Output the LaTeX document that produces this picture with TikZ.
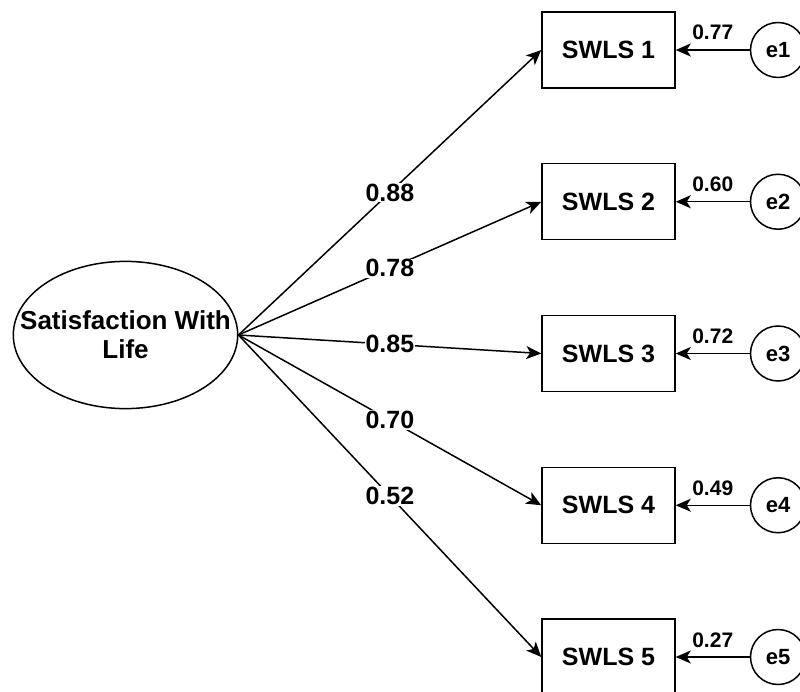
\documentclass[tikz,border=0pt]{standalone}
\usepackage{fontspec}
\setmainfont{Liberation Sans}
\usetikzlibrary{shapes.geometric,arrows.meta}

\tikzstyle{fleche}=[-{Stealth[length=15pt,width=13pt,inset=4pt]},line width=1.5pt]
\tikzstyle{latent}=[draw,ellipse,line width=1.5pt,inner xsep=-26pt,inner ysep=28pt,align=center,font=\bfseries\fontsize{26}{29}\selectfont]
\tikzstyle{boite}=[draw,rectangle,line width=1.5pt,minimum width=133pt,minimum height=76pt,font=\bfseries\fontsize{25}{28}\selectfont]
\tikzstyle{erreur}=[draw,circle,line width=1.5pt,minimum size=55pt,inner sep=0pt,font=\bfseries\fontsize{22}{24}\selectfont]
\tikzstyle{poids}=[fill=white,inner sep=1pt,font=\bfseries\fontsize{25}{28}\selectfont]
\tikzstyle{resid}=[above=9pt,inner sep=0pt,font=\bfseries\fontsize{21}{24}\selectfont]

\begin{document}
\begin{tikzpicture}[x=1pt,y=1pt]
\useasboundingbox (0,0) rectangle (800,-692);
\node [latent] (sat) at (125.5,-335) {Satisfaction With\\Life};
\foreach \i/\y/\l/\e/\w in {1/50/0.88/0.77/2.5,2/201.75/0.78/0.60/1.5,3/353.5/0.85/0.72/1.5,4/505.25/0.70/0.49/1.5,5/657/0.52/0.27/1.5}
{
\node [boite] (s\i) at (608.5,-\y) {SWLS \i};
\node [erreur] (e\i) at (778,-\y) {e\i};
\draw [fleche] (sat.east) -- node [poids] {\l} (s\i.west);
\draw [fleche,line width=\w pt] (e\i) -- node [resid] {\e} (s\i.east);
}
\end{tikzpicture}
\end{document}
